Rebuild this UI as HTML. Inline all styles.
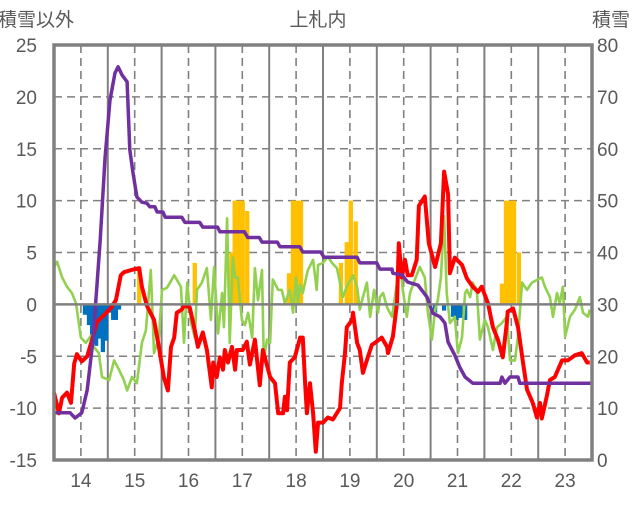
<!DOCTYPE html>
<html><head><meta charset="utf-8"><style>
body{margin:0;background:#fff;}
svg text{font-family:"Liberation Sans","Noto Sans CJK JP",sans-serif;fill:#595959;}
</style></head><body>
<svg id="chart" width="636" height="501" viewBox="0 0 636 501" xmlns="http://www.w3.org/2000/svg">
<g id="grid"></g>
<g id="bars"></g>
<g id="lines"></g>
<g id="axes"></g>
<text x="36" y="26" font-size="19" text-anchor="middle">積雪以外</text>
<text x="318" y="26" font-size="19" text-anchor="middle">上札内</text>
<text x="611" y="26" font-size="19" text-anchor="middle">積雪</text>
</svg>
<script>
const leftTicks=[25,20,15,10,5,0,-5,-10,-15];
const rightTicks=[80,70,60,50,40,30,20,10,0];
const yearLabels=['14','15','16','17','18','19','20','21','22','23'];
const redM=[0,1.1,1.8,2.9,3.8,4.5,5.1,6.2,7.4,8.5,9.6,11.2,12.7,13.8,14.9,15.6,17.2,19.0,19.6,20.7,22.3,23.4,24.5,25.4,26.1,26.8,27.4,28.5,29.0,30.3,31.4,32.1,33.2,34.1,35.2,35.5,36.3,37.0,37.7,38.1,38.8,39.7,40.4,40.8,42.1,43.0,43.7,44.8,45.9,46.6,48.2,49.3,50.0,51.1,51.5,52.0,52.6,53.7,54.9,55.5,56.0,56.4,57.1,57.8,58.4,58.9,60.0,61.1,62.2,63.8,64.2,64.9,65.3,66.5,66.7,67.6,68.2,68.9,70.0,70.9,71.6,73.1,74.3,74.5,75.6,76.5,76.9,77.6,78.3,78.9,79.8,80.9,81.4,82.7,83.6,85.0,86.3,87.0,87.9,88.3,89.4,91.0,92.1,93.4,94.6,95.4,96.8,97.9,99.0,100.1,101.0,101.2,102.4,103.5,104.6,105.5,106.8,107.7,108.4,108.8,109.9,110.6,111.7,113.3,114.6,116.2,117.7,118.9,119.5];
const redV=[-8.5,-10.5,-9.0,-8.5,-9.5,-5.7,-4.8,-5.5,-5.0,-3.4,-1.7,-1.0,-0.35,0.4,2.8,3.1,3.3,3.5,1.7,-0.1,-1.5,-4.1,-7.0,-8.3,-4.1,-3.2,-0.8,-0.5,-0.1,-0.3,-2.5,-4.1,-2.7,-4.4,-8.0,-5.6,-7.0,-5.1,-6.3,-4.4,-5.6,-4.1,-6.3,-4.4,-4.4,-3.6,-5.8,-3.4,-7.8,-4.4,-7.0,-7.6,-10.5,-10.5,-8.9,-10.2,-5.6,-5.1,-3.2,-3.2,-7.6,-10.5,-7.6,-10.5,-14.2,-11.4,-11.4,-10.9,-11.1,-10.0,-7.6,-4.7,-2.2,-1.5,-0.8,-3.7,-4.4,-6.6,-5.1,-3.9,-3.7,-3.2,-4.1,-4.7,-3.1,0.1,5.9,2.6,4.3,2.8,2.8,4.3,9.5,10.4,5.9,3.6,5.9,12.8,10.6,3.0,4.5,3.8,2.5,1.7,1.2,1.7,0.1,-2.2,-3.4,-5.1,-1.8,-0.7,-0.4,-2.2,-5.6,-8.2,-9.5,-10.9,-9.5,-11.0,-8.9,-7.3,-7.0,-5.4,-5.4,-4.9,-4.7,-5.6,-5.6];
const greenM=[0,0.7,1.8,2.9,4.0,4.9,6.0,7.1,8.3,8.9,10.0,10.7,12.3,13.4,14.5,15.6,16.3,17.4,18.5,19.6,20.5,21.6,22.3,23.4,24.1,25.2,26.8,28.3,29.0,29.7,30.6,31.4,31.9,33.0,34.1,35.0,35.7,36.6,37.5,37.9,38.6,39.2,39.9,40.4,41.0,41.9,42.6,43.3,44.2,44.8,45.5,46.4,46.8,47.5,48.2,48.8,50.0,50.8,51.5,52.6,53.3,54.0,54.4,54.9,55.5,56.6,57.8,58.6,58.9,60.0,61.1,62.0,63.1,63.8,64.4,65.3,66.7,67.6,68.2,68.9,69.8,70.5,71.4,72.3,72.7,73.4,74.3,75.4,76.5,77.2,77.8,78.7,79.4,80.5,81.6,82.7,83.4,84.3,85.0,85.6,86.3,87.0,87.6,88.3,89.4,90.1,91.0,91.7,92.1,92.8,93.4,94.3,95.0,96.1,96.8,97.9,98.8,99.9,101.0,101.7,102.8,103.5,104.4,105.5,106.6,107.9,108.8,109.5,110.6,111.3,112.2,112.8,113.5,114.0,115.1,116.2,117.3,118.0,119.1,119.5];
const greenV=[3.6,4.1,2.6,1.7,1.1,0.1,-3.2,-3.7,-3.0,-4.1,-4.7,-7.0,-7.3,-5.4,-6.3,-7.3,-8.3,-7.0,-7.6,-3.7,-2.5,3.3,-4.7,-3.2,1.4,1.6,2.8,1.7,-3.7,2.1,-1.8,-3.2,1.4,2.1,3.5,-1.5,3.6,-2.8,1.1,-2.2,8.3,-3.7,4.5,2.6,2.6,-1.5,-2.0,-0.8,-3.2,3.5,0.4,3.3,-5.4,-3.4,-3.7,2.4,1.4,1.4,0.1,1.4,-0.8,2.6,0.1,1.9,1.1,3.3,4.3,1.4,3.8,4.0,4.6,4.0,3.5,2.1,0.7,1.7,2.8,1.7,-0.5,0.7,2.1,-1.2,1.4,-0.8,0.7,1.1,-0.3,-1.2,2.1,4.0,1.4,-1.2,1.1,2.4,3.6,2.6,-0.8,-3.4,-0.5,0.4,2.6,8.5,1.1,-1.8,-1.2,-4.7,-3.2,1.1,1.4,0.7,2.1,1.4,-3.4,-1.5,-2.2,-4.4,-2.2,-1.8,-1.2,-5.4,-5.4,-3.1,2.1,1.4,2.1,2.4,2.6,1.7,0.7,-1.2,1.1,0.1,1.7,-3.1,-1.2,-0.5,0.7,-0.8,-1.2,-0.5];
const snowM=[0,3.6,4.7,6.2,7.4,8.7,10.3,11.4,12.5,13.6,14.3,15.2,16.3,16.9,17.6,18.5,19.6,20.7,21.4,22.5,23.0,24.3,24.8,28.5,29.2,32.5,33.2,36.5,37.0,42.5,43.2,45.8,46.4,49.8,50.4,54.8,55.5,59.5,60.2,67.6,68.2,72.0,72.7,75.4,75.6,77.6,78.9,81.2,83.2,84.5,86.1,87.2,87.9,89.4,90.5,91.7,93.4,99.5,99.9,100.6,101.7,103.5,103.9,120];
const snowV=[9.1,9.1,8.1,9.1,13.5,23.1,42.4,58.4,69.4,74.6,75.8,74.2,72.9,59.8,55.5,50.7,49.7,49.5,48.8,48.8,47.8,47.8,46.8,46.8,45.8,45.8,44.9,44.9,44.0,44.0,42.9,42.9,42.0,42.0,41.1,41.1,40.1,40.1,39.1,39.1,38.0,38.0,36.8,36.8,36.0,35.7,34.3,33.7,31.4,28.3,27.6,26.4,22.7,20.2,17.9,16.0,14.8,14.8,16.0,14.8,16.0,16.0,14.8,14.8];
const yellowM=[19.0,31.4,39.6,40.3,41.2,42.1,43.1,52.4,53.3,54.2,55.1,64.0,65.3,66.2,67.3,99.9,100.8,101.7,102.6,103.7];
const yellowV=[3.5,4,5,10,10,10,9,3,10,10,10,4,6,10,8,2,10,10,10,5];
const blueM=[6.9,7.8,8.5,9.4,10.0,10.9,11.6,12.3,13.2,13.8,14.5,85.0,87.0,89.0,89.8,90.7,91.7];
const blueV=[-1,-2,-3,-4,-3.3,-4.6,-3.5,-0.8,-1.5,-1.5,-0.5,-0.8,-0.6,-1.2,-1.5,-1.3,-1.5];

const X0=54,X1=592,Y0=45,Y1=460,MMAX=120;
const xS=m=>X0+m*(X1-X0)/MMAX;
const yL=v=>Y0+(25-v)*(Y1-Y0)/40;
const yR=v=>Y1-v*(Y1-Y0)/80;
const NS='http://www.w3.org/2000/svg';
function mk(tag,parent,attrs){const e=document.createElementNS(NS,tag);for(const k in attrs)e.setAttribute(k,attrs[k]);parent.appendChild(e);return e;}
const grid=document.getElementById('grid'),bars=document.getElementById('bars'),lines=document.getElementById('lines'),axes=document.getElementById('axes');
leftTicks.forEach(v=>{
  if(v!==25&&v!==-15&&v!==0){const l=mk('line',grid,{x1:X0,x2:X1,y1:yL(v),y2:yL(v),stroke:'#808080','stroke-width':1.6,'stroke-dasharray':'8,5'});
  
  }
  const t=mk('text',axes,{x:37,y:yL(v)+7,'font-size':19,'text-anchor':'end'});t.textContent=v;
  
  
});
rightTicks.forEach(v=>{
  const t=mk('text',axes,{x:597,y:yR(v)+7,'font-size':19});t.textContent=v;
  
  
});
yearLabels.forEach((lab,i)=>{
  const xm=xS(6+12*i);
  const l=mk('line',grid,{x1:xm,x2:xm,y1:Y0,y2:Y1,stroke:'#808080','stroke-width':1.6,'stroke-dasharray':'8,5'});
  
  
  if(i>0){const s=mk('line',grid,{x1:xS(12*i),x2:xS(12*i),y1:Y0,y2:Y1,stroke:'#808080','stroke-width':2});
  
  }
  const t=mk('text',axes,{x:xm,y:487,'font-size':19,'text-anchor':'middle'});t.textContent=lab;
  
  
});
const bw=(X1-X0)/MMAX*0.95;
yellowM.forEach((m,i)=>{const y=yL(yellowV[i]),z=yL(0);
  const r=mk('rect',bars,{x:xS(m)-bw/2,y:y,width:bw,height:z-y,fill:'#ffc000'});
  
  });
blueM.forEach((m,i)=>{const y=yL(blueV[i]),z=yL(0);
  const r=mk('rect',bars,{x:xS(m)-bw/2,y:z,width:bw,height:y-z,fill:'#0070c0'});
  
  });
function path(ms,vs,sc){return ms.map((m,i)=>(i?'L':'M')+xS(m).toFixed(1)+','+sc(vs[i]).toFixed(1)).join('');}
const g=mk('path',lines,{d:path(greenM,greenV,yL),fill:'none',stroke:'#92d050','stroke-width':2.6,'stroke-linejoin':'round'});


const r=mk('path',lines,{d:path(redM,redV,yL),fill:'none',stroke:'#ff0000','stroke-width':4,'stroke-linejoin':'round'});


const p=mk('path',lines,{d:path(snowM,snowV,yR),fill:'none',stroke:'#7030a0','stroke-width':3.5,'stroke-linejoin':'round'});


const zl=mk('line',axes,{x1:X0,x2:X1,y1:yL(0),y2:yL(0),stroke:'#808080','stroke-width':2.5});


const fr=mk('rect',axes,{x:X0,y:Y0,width:X1-X0,height:Y1-Y0,fill:'none',stroke:'#808080','stroke-width':3.5});


</script>
</body></html>
